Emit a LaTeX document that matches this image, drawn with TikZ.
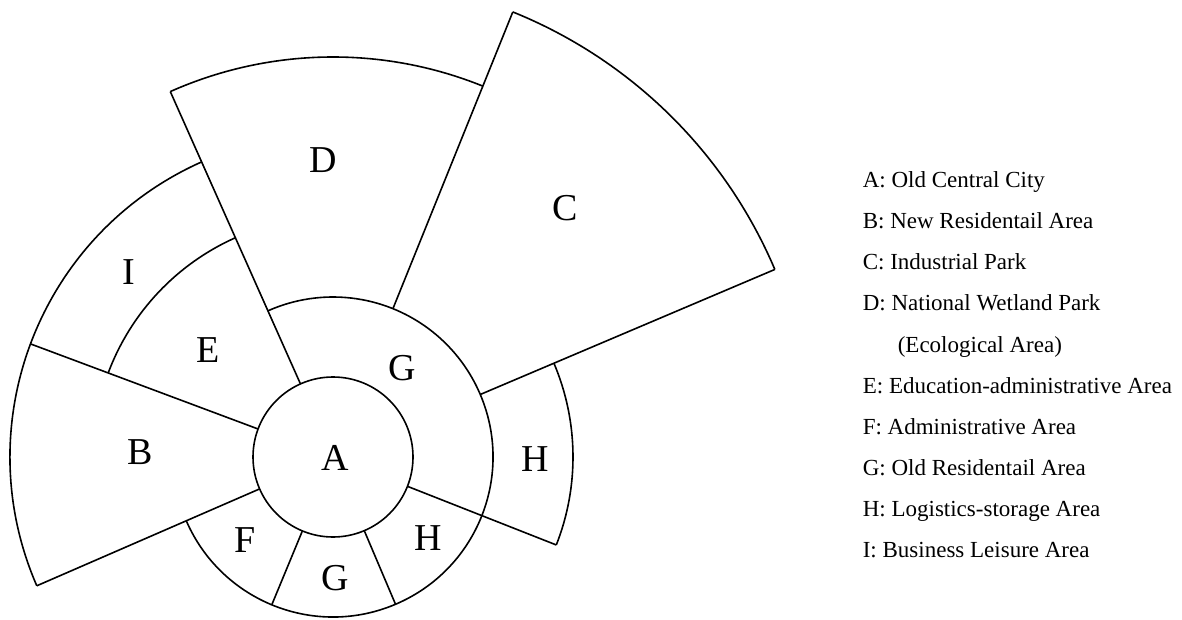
\documentclass[tikz,border=0pt]{standalone}
\usepackage{fontspec}
\setmainfont{Liberation Serif}
\begin{document}
\begin{tikzpicture}[x=1pt,y=1pt,line width=1.6pt,line join=round,
  region/.style={font=\fontsize{38}{40}\selectfont, inner sep=0pt, anchor=center},
  legend/.style={font=\fontsize{23}{25}\selectfont, anchor=base west, inner sep=0pt}]
\useasboundingbox (0,0) rectangle (1182,619);
\begin{scope}[shift={(333,162)}]
  % central circle A
  \draw (0,0) circle[radius=80pt];
  % inner ring outer arc (G, F, G, H)
  \draw (203.5:160pt) arc[start angle=203.5, end angle=474, radius=160pt];
  % r=240 arcs (H right, E)
  \draw (-21.5:240pt) arc[start angle=-21.5, end angle=23, radius=240pt];
  \draw (114:240pt) arc[start angle=114, end angle=159.5, radius=240pt];
  % r=323 arc (I, B)
  \draw (114:323pt) arc[start angle=114, end angle=203.5, radius=323pt];
  % D outer
  \draw (68:400pt) arc[start angle=68, end angle=114, radius=400pt];
  % C outer
  \draw (23:480pt) arc[start angle=23, end angle=68, radius=480pt];
  % radial lines
  \draw (23:160pt) -- (23:480pt);
  \draw (68:160pt) -- (68:480pt);
  \draw (114:80pt) -- (114:400pt);
  \draw (159.5:80pt) -- (159.5:323pt);
  \draw (203.5:80pt) -- (203.5:323pt);
  \draw (247.5:80pt) -- (247.5:160pt);
  \draw (293:80pt) -- (293:160pt);
  \draw (338.5:80pt) -- (338.5:240pt);
\end{scope}
% region labels
\node[region] (lA) at (335,161) {A};
\node[region] (lB) at (140,167) {B};
\node[region] (lC) at (565,411) {C};
\node[region] (lD) at (323,459) {D};
\node[region] (lE) at (208,269) {E};
\node[region] (lF) at (245,79) {F};
\node[region] (lG1) at (402,251) {G};
\node[region] (lG2) at (335,41) {G};
\node[region] (lH1) at (535,160) {H};
\node[region] (lH2) at (428,81) {H};
\node[region] (lI) at (129,347) {I};
% legend
\node[legend] (tA) at (862,431) {A: Old Central City};
\node[legend] (tB) at (862,390) {B: New Residentail Area};
\node[legend] (tC) at (862,349) {C: Industrial Park};
\node[legend] (tD) at (862,308) {D: National Wetland Park};
\node[legend] (tD2) at (897,267) {(Ecological Area)};
\node[legend] (tE) at (862,226) {E: Education-administrative Area};
\node[legend] (tF) at (862,185) {F: Administrative Area};
\node[legend] (tG) at (862,144) {G: Old Residentail Area};
\node[legend] (tH) at (862,103) {H: Logistics-storage Area};
\node[legend] (tI) at (862,62) {I: Business Leisure Area};
\end{tikzpicture}
\end{document}
